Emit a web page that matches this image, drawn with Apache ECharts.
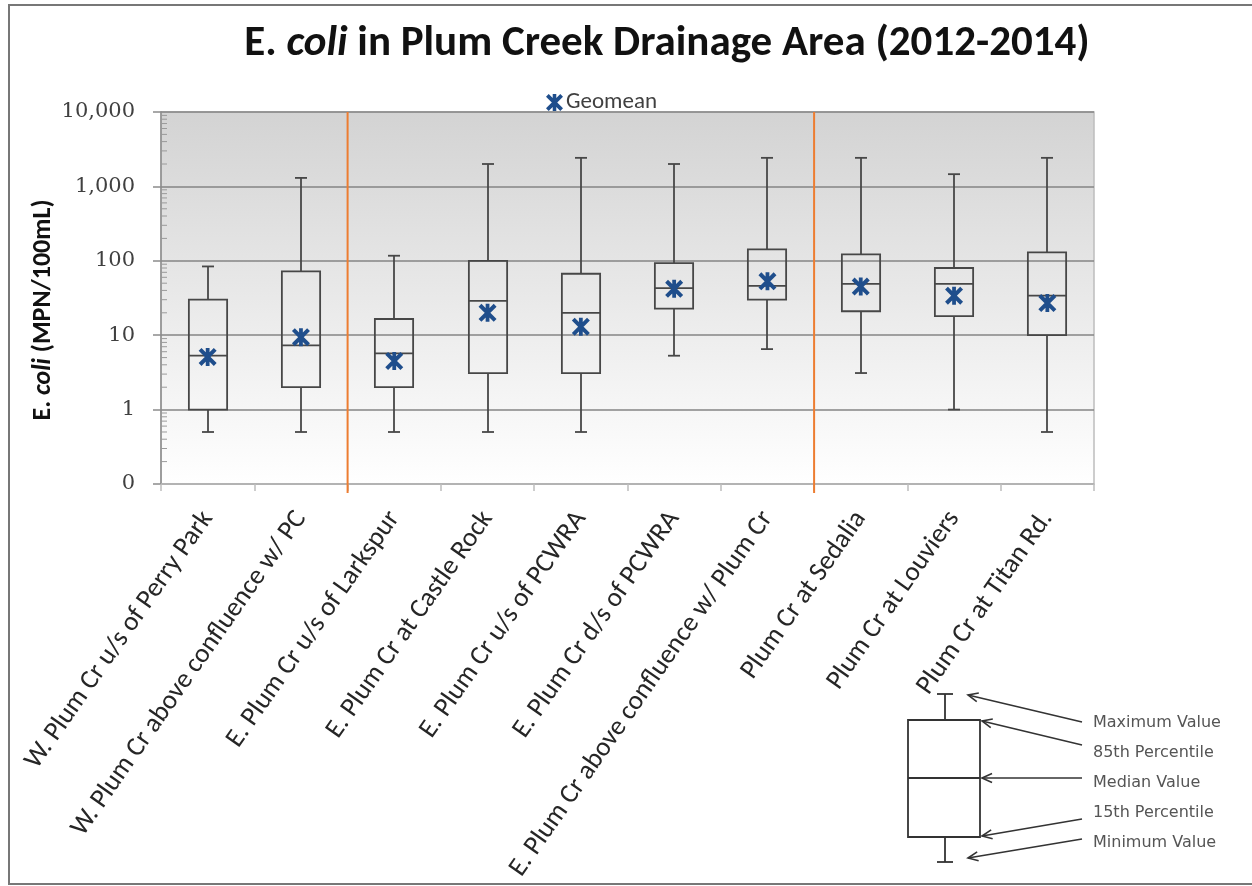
<!DOCTYPE html>
<html><head><meta charset="utf-8">
<script src="https://cdn.jsdelivr.net/npm/echarts@6/dist/echarts.min.js"></script>
<style>html,body{margin:0;padding:0;background:#fff}#c{width:1252px;height:886px}</style>
</head><body><div id="c"></div>
<script>
const categories = ['W. Plum Cr u/s of Perry Park', 'W. Plum Cr above confluence w/ PC', 'E. Plum Cr u/s of Larkspur', 'E. Plum Cr at Castle Rock', 'E. Plum Cr u/s of PCWRA', 'E. Plum Cr d/s of PCWRA', 'E. Plum Cr above confluence w/ Plum Cr', 'Plum Cr at Sedalia', 'Plum Cr at Louviers', 'Plum Cr at Titan Rd.'];
const minValues     = [0.5, 0.5, 0.5, 0.5, 0.5, 5.3, 6.5, 3.1, 1, 0.5];
const p15Values     = [1, 2, 2, 3.1, 3.1, 22.7, 30, 21, 18, 10];
const medianValues  = [5.3, 7.3, 5.7, 29, 20, 43, 46, 49, 49, 34];
const p85Values     = [30, 72, 16.5, 100, 67, 93, 142, 122, 80, 130];
const maxValues     = [84, 1300, 117, 2000, 2420, 2000, 2420, 2420, 1460, 2420];
const geomeanValues = [5.1, 9.4, 4.5, 20, 13, 42, 53, 45, 34, 27];
const yTickLabels = {0.1: '0', 1: '1', 10: '10', 100: '100', 1000: '1,000', 10000: '10,000'};
const groupStarts = [2, 7];
const keyLabels = ['Maximum Value', '85th Percentile', 'Median Value', '15th Percentile', 'Minimum Value'];

const starPath = 'path://M0.5,3.5 L3.5,0.5 L19.5,16.5 L16.5,19.5 Z M16.5,0.5 L19.5,3.5 L3.5,19.5 L0.5,16.5 Z M8,0.5 L12,0.5 L12,19.5 L8,19.5 Z';
const FONT = 'Carlito, Lato, sans-serif';

const boxData = categories.map((c, i) => [i, minValues[i], p15Values[i], medianValues[i], p85Values[i], maxValues[i]]);
const minorTicks = [];
for (let k = -1; k < 4; k++) for (let m = 2; m <= 9; m++) minorTicks.push([0, m * Math.pow(10, k)]);

function renderBox(params, api) {
  const i = api.value(0);
  const pMin = api.coord([i, api.value(1)]);
  const pQ1 = api.coord([i, api.value(2)]);
  const pMed = api.coord([i, api.value(3)]);
  const pQ3 = api.coord([i, api.value(4)]);
  const pMax = api.coord([i, api.value(5)]);
  const band = api.size([1, 0])[0];
  const bw = band * 0.41, cw = 12;
  const x = Math.round(pMed[0]);
  const st = {stroke: '#474747', lineWidth: 1.8, fill: null};
  return {type: 'group', children: [
    {type: 'line', shape: {x1: x, y1: pMax[1], x2: x, y2: pQ3[1]}, style: st},
    {type: 'line', shape: {x1: x - cw / 2, y1: pMax[1], x2: x + cw / 2, y2: pMax[1]}, style: st},
    {type: 'line', shape: {x1: x, y1: pQ1[1], x2: x, y2: pMin[1]}, style: st},
    {type: 'line', shape: {x1: x - cw / 2, y1: pMin[1], x2: x + cw / 2, y2: pMin[1]}, style: st},
    {type: 'rect', shape: {x: x - bw / 2, y: pQ3[1], width: bw, height: pQ1[1] - pQ3[1]}, style: st},
    {type: 'line', shape: {x1: x - bw / 2, y1: pMed[1], x2: x + bw / 2, y2: pMed[1]}, style: st}
  ]};
}
function renderMinor(params, api) {
  const p = api.coord([0, api.value(1)]);
  const x0 = params.coordSys.x;
  return {type: 'line', shape: {x1: x0, y1: p[1], x2: x0 + 6, y2: p[1]}, style: {stroke: '#9a9a9a', lineWidth: 1}};
}
function renderSep(params, api) {
  const p = api.coord([api.value(0), 1]);
  const band = api.size([1, 0])[0];
  const x = p[0] - band / 2;
  const cs = params.coordSys;
  return {type: 'line', shape: {x1: x, y1: cs.y, x2: x, y2: cs.y + cs.height + 9}, style: {stroke: '#ED7D31', lineWidth: 2}};
}

// explanatory key (drawn as annotation)
function arrow(sx, sy, tx, ty) {
  const dx = tx - sx, dy = ty - sy, L = Math.hypot(dx, dy);
  const ux = dx / L, uy = dy / L, h = 11, a = 0.42;
  const c = Math.cos(a), s = Math.sin(a);
  const b1 = [tx - h * (ux * c - uy * s), ty - h * (uy * c + ux * s)];
  const b2 = [tx - h * (ux * c + uy * s), ty - h * (uy * c - ux * s)];
  const st = {stroke: '#333', lineWidth: 1.6, fill: null};
  return [
    {type: 'line', shape: {x1: sx, y1: sy, x2: tx, y2: ty}, style: st},
    {type: 'polyline', shape: {points: [b1, [tx, ty], b2]}, style: st}
  ];
}
const keyEls = [];
const kst = {stroke: '#333', lineWidth: 1.8, fill: null};
keyEls.push({type: 'rect', shape: {x: 908, y: 720, width: 72, height: 117}, style: kst});
keyEls.push({type: 'line', shape: {x1: 908, y1: 778, x2: 980, y2: 778}, style: kst});
keyEls.push({type: 'line', shape: {x1: 945, y1: 694, x2: 945, y2: 720}, style: kst});
keyEls.push({type: 'line', shape: {x1: 937, y1: 694, x2: 953, y2: 694}, style: kst});
keyEls.push({type: 'line', shape: {x1: 945, y1: 837, x2: 945, y2: 862}, style: kst});
keyEls.push({type: 'line', shape: {x1: 937, y1: 862, x2: 953, y2: 862}, style: kst});
[[1082, 722, 968, 695], [1082, 745, 982, 721], [1082, 778, 982, 778], [1082, 819, 982, 836], [1082, 839, 968, 858]]
  .forEach(a => keyEls.push(...arrow(a[0], a[1], a[2], a[3])));
const keyTextY = [723, 753, 783, 813, 843];
keyLabels.forEach((t, i) => keyEls.push({type: 'text', x: 1093, y: keyTextY[i], style: {text: t, fill: '#555', font: '16px "DejaVu Sans", Verdana, sans-serif', align: 'left', verticalAlign: 'middle'}}));

const chart = echarts.init(document.getElementById('c'), null, {renderer: 'canvas'});
chart.setOption({
  animation: false,
  backgroundColor: '#fff',
  grid: {left: 161, right: 158, top: 112, bottom: 402, show: true,
    backgroundColor: new echarts.graphic.LinearGradient(0, 0, 0, 1, [{offset: 0, color: '#d3d3d3'}, {offset: 1, color: '#ffffff'}]),
    borderColor: '#bdbdbd', borderWidth: 1.5},
  legend: {data: [{name: 'Geomean', icon: starPath}], left: 541, top: 86, itemWidth: 17, itemHeight: 17, itemGap: 2,
    textStyle: {fontFamily: FONT, fontSize: 23, color: '#404040', padding: [0, 0, 0, -2]}},
  xAxis: {type: 'category', data: categories, boundaryGap: true,
    axisLine: {lineStyle: {color: '#bdbdbd', width: 1.5}},
    axisTick: {show: true, interval: 0, length: 7, lineStyle: {color: '#bdbdbd', width: 1.5}},
    axisLabel: {interval: 0, rotate: 55, margin: 30, fontFamily: FONT, fontSize: 27, color: '#262626'},
    splitLine: {show: false}},
  yAxis: {type: 'log', logBase: 10, min: 0.1, max: 10000,
    axisLine: {show: true, lineStyle: {color: '#8c8c8c', width: 1.5}},
    axisTick: {show: true, length: 8, lineStyle: {color: '#8c8c8c', width: 1.5}},
    axisLabel: {margin: 26, fontFamily: '"DejaVu Serif", serif', fontSize: 21, color: '#404040',
      formatter: v => yTickLabels[+v.toPrecision(6)] || String(v)},
    splitLine: {show: true, lineStyle: {color: '#858585', width: 1.5}}},
  graphic: [
    {type: 'rect', shape: {x: 9, y: 5, width: 1260, height: 879}, style: {stroke: '#777', lineWidth: 2, fill: null}, z: 100},
    {type: 'text', x: 667, y: 44, style: {text: '{b|E. }{i|coli}{b| in Plum Creek Drainage Area (2012-2014)}',
      rich: {b: {fontFamily: FONT, fontWeight: 'bold', fontSize: 43, fill: '#111'}, i: {fontFamily: FONT, fontWeight: 'bold', fontStyle: 'italic', fontSize: 43, fill: '#111'}},
      align: 'center', verticalAlign: 'middle'}},
    {type: 'text', x: 43, y: 310, rotation: Math.PI / 2, style: {text: '{b|E. }{i|coli}{b| (MPN/100mL)}',
      rich: {b: {fontFamily: FONT, fontWeight: 'bold', fontSize: 26, fill: '#111'}, i: {fontFamily: FONT, fontWeight: 'bold', fontStyle: 'italic', fontSize: 26, fill: '#111'}},
      align: 'center', verticalAlign: 'middle'}},
    ...keyEls
  ],
  series: [
    {name: 'minor', type: 'custom', renderItem: renderMinor, data: minorTicks, encode: {x: 0, y: 1}, silent: true, z: 1},
    {name: 'boxes', type: 'custom', renderItem: renderBox, data: boxData, encode: {x: 0, y: [1, 2, 3, 4, 5]}, z: 3},
    {name: 'sep', type: 'custom', renderItem: renderSep, data: groupStarts.map(g => [g]), encode: {x: 0}, silent: true, z: 2},
    {name: 'Geomean', type: 'scatter', data: geomeanValues, symbol: starPath, symbolSize: 18, itemStyle: {color: '#1F4E8C', opacity: 1}, z: 5}
  ]
});
</script></body></html>
